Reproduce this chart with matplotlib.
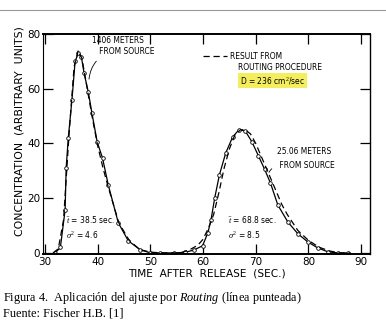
import matplotlib.pyplot as plt
from matplotlib.lines import Line2D

plt.rcParams["mathtext.fontset"] = "custom"
plt.rcParams["mathtext.it"] = "Liberation Serif:italic"
plt.rcParams["mathtext.rm"] = "Liberation Serif"

# measured curve (solid with circles)
t_meas = [31.9, 32.9, 33.8, 34.0, 34.4, 35.1, 35.7, 36.3, 36.9, 37.4, 38.2, 38.9, 39.9,
          40.9, 42.0, 43.9, 45.8, 48.1, 50.0, 51.9, 54.4, 56.5, 58.2, 59.9, 60.9, 61.5,
          62.2, 63.1, 64.3, 65.6, 66.8, 68.0, 69.3, 70.5, 71.7, 72.8, 74.2, 76.1, 78.0,
          79.9, 81.8, 83.7, 85.6, 87.5]
c_meas = [0, 2, 15.7, 31, 42, 56, 70, 73, 71.5, 65.7, 58.8, 51, 40.5,
          34.7, 24.8, 11, 4.4, 1.1, 0, 0, 0, 0.2, 1.0, 2.6, 7.3, 12,
          20, 28.5, 36.5, 42.3, 45, 44.6, 40.5, 35.5, 30.5, 25.5, 17.5, 11.3, 7.0,
          4.0, 1.8, 0.4, 0, 0]

# routing result (dashed)
t_rout = [31.5, 32.5, 33.5, 34.5, 35.5, 36.3, 37.0, 38.0, 39.0, 40.0, 41.0, 42.0, 44.0,
          46.0, 48.0, 50.0, 52.0, 55.7, 57.5, 59.0, 60.0, 61.0, 62.0, 63.0, 64.0, 65.0,
          66.0, 67.1, 68.0, 69.0, 70.0, 71.0, 72.0, 73.0, 74.0, 75.0, 76.0, 78.0, 80.0,
          82.0, 84.0, 86.0, 88.0]
c_rout = [0, 1.5, 12, 42, 68, 74, 71, 60, 49, 39, 31, 24, 11,
          4.5, 1.2, 0.3, 0, 0, 1.2, 2.8, 5, 9, 14, 22, 31, 38,
          43, 45, 45, 43.5, 40, 35.5, 31, 26.5, 22, 17.5, 14, 8.2, 4.6,
          2.1, 0.7, 0, 0]

xticks = [30, 40, 50, 60, 70, 80, 90]
yticks = [0, 20, 40, 60, 80]

fig = plt.figure(figsize=(3.86, 3.31), dpi=100)
ax = fig.add_axes([43 / 386, 1 - 254 / 331, 327 / 386, 220 / 331])

ax.plot(t_meas, c_meas, color="black", lw=0.9, marker="o", ms=2.6,
        mfc="white", mec="black", mew=0.6)
dash, = ax.plot(t_rout, c_rout, color="black", lw=0.9, ls=(0, (5, 3)))

ax.set_xlim(29.6, 91.7)
ax.set_ylim(-0.4, 80)
ax.set_xticks(xticks)
ax.set_yticks(yticks)
ax.tick_params(direction="in", length=7, width=0.9, labelsize=7.5,
               top=True, right=True, pad=2)
for side in ["top", "bottom"]:
    ax.spines[side].set_linewidth(1.4)
ax.spines["left"].set_linewidth(0.8)
ax.spines["right"].set_linewidth(1.0)

ax.set_xlabel("TIME  AFTER  RELEASE  (SEC.)", fontsize=7.6, labelpad=1)
fig.text(20 / 386, 1 - 131 / 331, "CONCENTRATION  (ARBITRARY  UNITS)",
         rotation=90, ha="center", va="center", fontsize=7.8)

small = dict(fontsize=6.0, family="DejaVu Sans", stretch="condensed")

# legend for routing line
ax.legend(handles=[dash], labels=["RESULT FROM"], loc="upper left",
          bbox_to_anchor=(0.48, 0.935), frameon=False, handlelength=2.8,
          handletextpad=0.4, prop=dict(size=6.0, stretch="condensed"), borderaxespad=0)
ax.text(0.597, 0.85, "ROUTING PROCEDURE", transform=ax.transAxes, va="center", **small)
ax.text(0.603, 0.79, "D = 236 cm$^2$/sec", transform=ax.transAxes, va="center",
        bbox=dict(boxstyle="square,pad=0.25", fc="#f4ee5c", ec="none"), **small)

ax.annotate("1406 METERS\n   FROM SOURCE", xy=(38.3, 62.5), xytext=(39.0, 75.5),
            va="center", linespacing=1.3,
            arrowprops=dict(arrowstyle="-", lw=0.6, connectionstyle="arc3,rad=0.3",
                            relpos=(0.25, 0.2)), **small)
ax.annotate("25.06 METERS\n FROM SOURCE", xy=(72.3, 28.5), xytext=(74.0, 34.5),
            va="center", linespacing=1.6,
            arrowprops=dict(arrowstyle="-", lw=0.6, connectionstyle="arc3,rad=0.3",
                            relpos=(0.05, 0.2)), **small)

ax.text(34.0, 9.5, "$\\bar{t}$ = 38.5 sec.\n$\\sigma^2$ = 4.6", va="center",
        linespacing=1.5, **small)
ax.text(64.8, 9.5, "$\\bar{t}$ = 68.8 sec.\n$\\sigma^2$ = 8.5", va="center",
        linespacing=1.5, **small)

# scan border line at top
fig.add_artist(Line2D([0, 1], [1 - 10 / 331, 1 - 10 / 331], color="#999999", lw=0.8))

fig.text(3 / 386, 1 - 298 / 331, "Figura 4.  Aplicación del ajuste por $\\it{Routing}$ (línea punteada)",
         family="Liberation Serif", fontsize=8.8, va="center")
fig.text(3 / 386, 1 - 313 / 331, "Fuente: Fischer H.B. [1]",
         family="Liberation Serif", fontsize=8.8, va="center")

fig.savefig("out.png", dpi=100)
